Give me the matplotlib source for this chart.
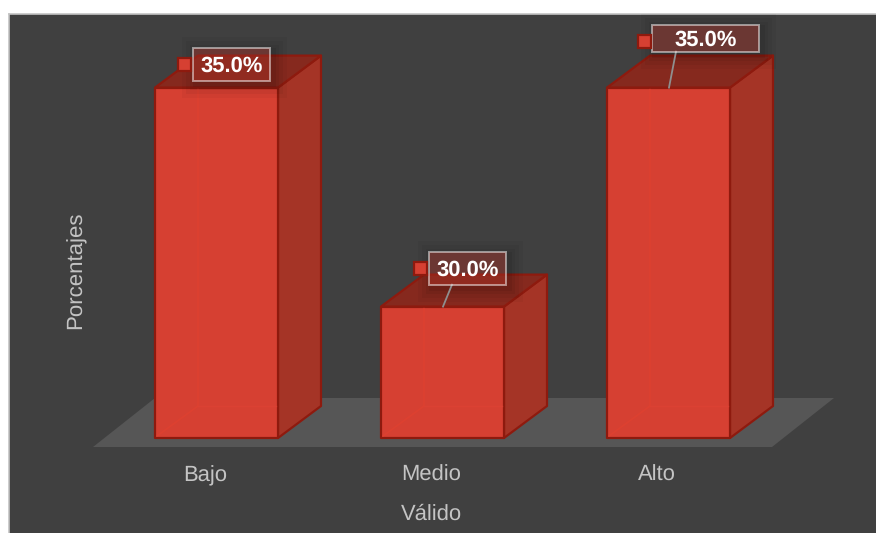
import matplotlib
matplotlib.use("Agg")
import matplotlib.pyplot as plt
from matplotlib.patches import Polygon, Rectangle

categories = ["Bajo", "Medio", "Alto"]
values = [35.0, 30.0, 35.0]
labels = ["35.0%", "30.0%", "35.0%"]
baseline = 27.0

W, H = 876, 533
L, T, B = 9, 14, 447
PX_CAT = 226.0      # pixels per category
PX_VAL = 43.8       # pixels per value unit
CX0 = 216.5         # pixel centre of first category
BASE_PX = 438       # pixel of baseline
BAR_W = 123 / PX_CAT
DX = 43 / PX_CAT
DY = 32 / PX_VAL
TICK_SHIFT = -11.5 / PX_CAT

plt.rcParams["font.family"] = ["Liberation Sans", "DejaVu Sans"]
plt.rcParams["text.hinting"] = "none"
fig = plt.figure(figsize=(W / 100, H / 100), dpi=100, facecolor="white")
fig.add_artist(Rectangle((L / W, 0), 1 - L / W, 1 - T / H, transform=fig.transFigure,
                         facecolor="#404040", edgecolor="none", zorder=-3))
fig.add_artist(plt.Line2D([L / W, L / W], [0, 1 - T / H], color="#c4c4c4", lw=1.2, zorder=-2))
fig.add_artist(plt.Line2D([L / W, 1], [1 - T / H, 1 - T / H], color="#c4c4c4", lw=1.2, zorder=-2))

ax = fig.add_axes([L / W, 1 - B / H, 1 - L / W, (B - T) / H], facecolor="none")
ax.set_xlim((L - CX0) / PX_CAT, (W - CX0) / PX_CAT)
ax.set_ylim(baseline - (B - BASE_PX) / PX_VAL, baseline + (BASE_PX - T) / PX_VAL)
for s in ax.spines.values():
    s.set_visible(False)
ax.set_yticks([])
ax.set_xticks([i + TICK_SHIFT for i in range(len(categories))])
ax.set_xticklabels(categories, fontsize=15.8, color="#c4c4c4")
ax.tick_params(axis="x", length=0, pad=13)
ax.set_xlabel("Válido", fontsize=15.8, color="#c4c4c4")
ax.xaxis.set_label_coords((431 - L) / (W - L), -(514 - B) / (B - T), transform=ax.transAxes)
ax.xaxis.label.set_verticalalignment("center")
ax.set_ylabel("Porcentajes", fontsize=16, color="#c4c4c4")
ax.yaxis.set_label_coords((76 - L) / (W - L), (B - 270) / (B - T), transform=ax.transAxes)
ax.yaxis.label.set_verticalalignment("center")


def px2x(p):
    return (p - CX0) / PX_CAT


def px2y(p):
    return baseline + (BASE_PX - p) / PX_VAL


# floor
floor_y0 = px2y(447)
floor_y1 = px2y(398)
ax.add_patch(Polygon([(px2x(93), floor_y0), (px2x(772), floor_y0),
                      (px2x(834), floor_y1), (px2x(155), floor_y1)],
                     closed=True, facecolor="#565656", edgecolor="none", clip_on=False, zorder=1))

EDGE = "#8e1a0e"
for i, v in enumerate(values):
    x0, x1 = i - BAR_W / 2, i + BAR_W / 2
    y0, y1 = baseline, v
    kw = dict(closed=True, clip_on=False, edgecolor=EDGE, linewidth=1.6, joinstyle="round")
    ax.add_patch(Polygon([(x1, y0), (x1 + DX, y0 + DY), (x1 + DX, y1 + DY), (x1, y1)],
                         facecolor="#a53426", zorder=3, **kw))
    ax.add_patch(Polygon([(x0, y1), (x1, y1), (x1 + DX, y1 + DY), (x0 + DX, y1 + DY)],
                         facecolor="#86291e", zorder=3, **kw))
    ax.add_patch(Polygon([(x0, y0), (x1, y0), (x1, y1), (x0, y1)],
                         facecolor="#d64032", zorder=4, **kw))
    # back edges seen through the translucent front, stopping short of the front's outline
    inset_x = 2 / PX_CAT
    inset_y = 2 / PX_VAL
    ax.plot([x0 + inset_x, x0 + DX, x0 + DX], [y0 + inset_y, y0 + DY, y1 - inset_y],
            color="#e04030", lw=1.1, alpha=0.75, zorder=5, clip_on=False)
    ax.plot([x0 + DX, x1 - inset_x], [y0 + DY, y0 + DY], color="#dd4234", lw=1.0,
            alpha=0.75, zorder=5, clip_on=False)

# data label layout per bar: pixel offsets from the bar's top
box_x = [193, 428.5, 652]
box_w = [77, 77.5, 107]
box_h = [33, 33, 27]
box_dy = [-40, -55, -63]
mark_x = [178, 413.5, 637.5]
mark_dy = [-30, -45, -53]
leader_x = [None, (443, 452), (669, 676)]
leader_dy = [None, -22, -36]

for i, v in enumerate(values):
    top_px = BASE_PX - (v - baseline) * PX_VAL
    bx, bw, bh = box_x[i], box_w[i], box_h[i]
    by = top_px + box_dy[i]
    mx, my = mark_x[i], top_px + mark_dy[i]
    for grow, a in [(14, 0.03), (10, 0.04), (6, 0.05), (3, 0.06)]:
        ax.add_patch(Rectangle((px2x(bx - grow + 3), px2y(by + bh + grow + 3)),
                               (bw + 2 * grow) / PX_CAT, (bh + 2 * grow) / PX_VAL,
                               facecolor="black", alpha=a, edgecolor="none", zorder=6,
                               clip_on=False))
    if leader_x[i]:
        ax.plot([px2x(leader_x[i][1]), px2x(leader_x[i][0])], [px2y(top_px + leader_dy[i]), v],
                color="#8f8f8f", lw=1.3, zorder=7, clip_on=False)
    ax.add_patch(Rectangle((px2x(bx), px2y(by + bh)), bw / PX_CAT, bh / PX_VAL,
                           facecolor=(0.84, 0.25, 0.20, 0.35), edgecolor=(1, 1, 1, 0.5),
                           linewidth=1.4, zorder=8, clip_on=False))
    ax.add_patch(Rectangle((px2x(mx), px2y(my + 13)), 13 / PX_CAT, 13 / PX_VAL,
                           facecolor="#d64032", edgecolor=EDGE, linewidth=1.6, zorder=8,
                           clip_on=False))
    ax.text(px2x(bx + bw / 2), px2y(by + bh / 2 - 0.5), labels[i], color="white", fontsize=15.8,
            fontweight="bold", ha="center", va="center_baseline", zorder=9, clip_on=False)

fig.savefig("out.png", dpi=100, facecolor="white")
